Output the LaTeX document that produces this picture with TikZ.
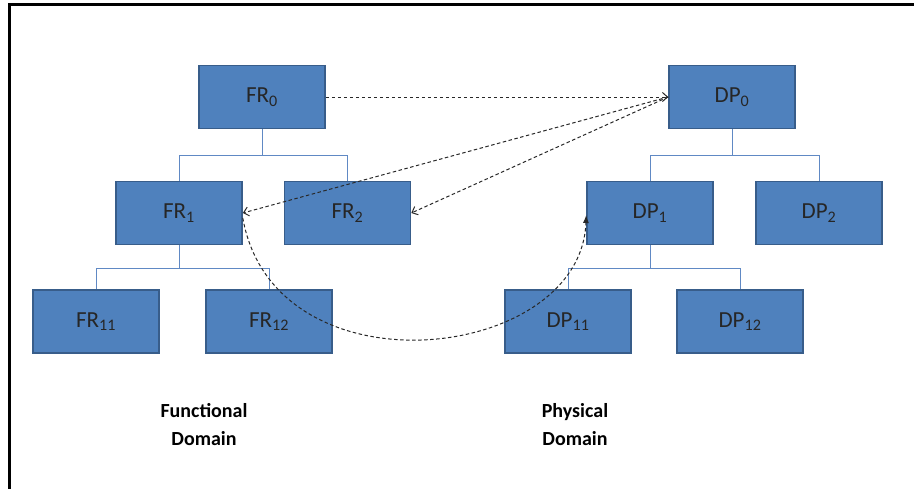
\documentclass[tikz,border=0pt]{standalone}
\usepackage{fontspec}
\setmainfont{Carlito}
\usetikzlibrary{arrows.meta}
\definecolor{boxblue}{RGB}{79,129,189}
\definecolor{boxedge}{RGB}{56,93,138}
\definecolor{linkblue}{RGB}{96,137,196}
\definecolor{dashgray}{RGB}{40,40,40}

\begin{document}
\begin{tikzpicture}[
  x=1pt,y=-1pt,
  box/.style={draw=boxedge,fill=boxblue,line width=1.6pt,minimum width=126pt,minimum height=63pt,inner sep=0pt,font=\fontsize{23}{27}\selectfont,text=black!85},
  ]
  \tikzset{%
    branch/.style={
      draw=linkblue,
      line width=1pt,
    },
    mapping/.style={
      draw=dashgray,
      line width=1pt,
      dash pattern=on 3.5pt off 2.5pt,
    },
    barb/.style={-{Straight Barb[length=5pt,width=9pt]}},
    domainlabel/.style={
      align=center,
      font=\bfseries\fontsize{20}{28}\selectfont,
    },
  }
  \useasboundingbox (0,0) rectangle (914,488);
  %Frame
  \draw[line width=3.5pt] (9.5,490) -- (9.5,4.5) -- (916,4.5);
  %Nodes
  \node[box](FR0) at (262,97){FR\textsubscript{0}};
  \node[box](FR1) at (179,213){FR\textsubscript{1}};
  \node[box](FR2) at (347.5,213){FR\textsubscript{2}};
  \node[box](FR11) at (96,321.5){FR\textsubscript{11}};
  \node[box](FR12) at (269,321.5){FR\textsubscript{12}};
  \node[box](DP0) at (732,97){DP\textsubscript{0}};
  \node[box](DP1) at (650,213){DP\textsubscript{1}};
  \node[box](DP2) at (819,213){DP\textsubscript{2}};
  \node[box](DP11) at (568,321.5){DP\textsubscript{11}};
  \node[box](DP12) at (740,321.5){DP\textsubscript{12}};
  \node[domainlabel](fdom) at (204,425){Functional\\Domain};
  \node[domainlabel](pdom) at (575,425){Physical\\Domain};
  %Tree lines
  \draw[branch] (FR0.south) -- ++(0,26) -| (FR1.north);
  \draw[branch] (FR0.south) -- ++(0,26) -| (FR2.north);
  \draw[branch] (FR1.south) -- ++(0,23) -| (FR11.north);
  \draw[branch] (FR1.south) -- ++(0,23) -| (FR12.north);
  \draw[branch] (DP0.south) -- ++(0,26) -| (DP1.north);
  \draw[branch] (DP0.south) -- ++(0,26) -| (DP2.north);
  \draw[branch] (DP1.south) -- ++(0,23) -| (DP11.north);
  \draw[branch] (DP1.south) -- ++(0,23) -| (DP12.north);
  %Mapping
  \draw[mapping,barb] (FR0.east) -- (DP0.west);
  \draw[mapping,barb] (DP0.west) -- (FR1.east);
  \draw[mapping,barb] (DP0.west) -- (FR2.east);
  \draw[mapping,-{Latex[length=8pt,width=6pt]}] ([yshift=-5pt]FR1.east)
    to[out=-80,in=-92,out looseness=1.35,in looseness=1.1] ([yshift=-2pt]DP1.west);
\end{tikzpicture}
\end{document}
